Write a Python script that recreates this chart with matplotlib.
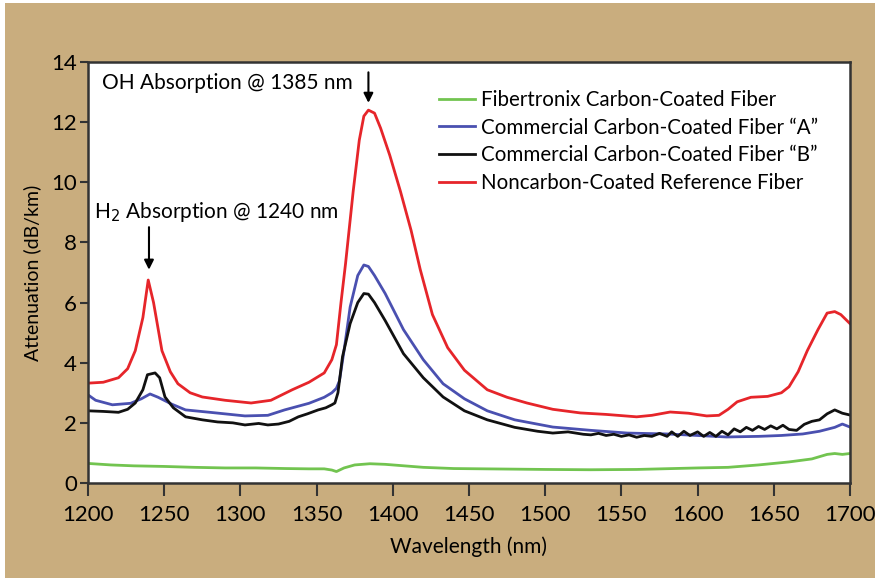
import matplotlib.pyplot as plt
from matplotlib.patches import Rectangle

# values (wavelength nm, attenuation dB/km)
wl_red = [1200, 1210, 1220, 1226, 1231, 1236, 1239.5, 1243, 1248.5, 1254, 1259, 1267, 1275,
          1290, 1307, 1320, 1334, 1345, 1355, 1360, 1363, 1366, 1369, 1374, 1378, 1381, 1384,
          1388, 1392, 1398, 1405, 1412, 1418, 1426, 1436, 1447, 1462, 1475, 1488, 1505, 1523,
          1540, 1560, 1570, 1582, 1594, 1606, 1614, 1620, 1626, 1635, 1646, 1655, 1660, 1666,
          1672, 1679, 1685, 1690, 1694, 1698, 1700]
red = [3.32, 3.35, 3.5, 3.8, 4.4, 5.5, 6.75, 6.0, 4.4, 3.7, 3.3, 3.0, 2.86,
       2.75, 2.66, 2.75, 3.1, 3.35, 3.66, 4.1, 4.6, 6.0, 7.3, 9.7, 11.4, 12.2, 12.4,
       12.3, 11.8, 10.9, 9.7, 8.4, 7.1, 5.6, 4.5, 3.75, 3.1, 2.85, 2.66, 2.45, 2.33,
       2.28, 2.2, 2.25, 2.36, 2.32, 2.23, 2.25, 2.45, 2.7, 2.85, 2.88, 3.0, 3.2, 3.7,
       4.4, 5.1, 5.65, 5.7, 5.6, 5.4, 5.3]

wl_blue = [1200, 1205, 1216, 1228, 1235, 1240.7, 1246, 1255, 1264, 1280, 1303, 1318, 1329,
           1345, 1355, 1360, 1363, 1365, 1368, 1372, 1377, 1381, 1384, 1388, 1395, 1407, 1420,
           1433, 1447, 1462, 1480, 1505, 1530, 1554, 1580, 1600, 1619, 1640, 1655, 1669, 1680,
           1690, 1695, 1700]
blue = [2.93, 2.75, 2.6, 2.65, 2.8, 2.96, 2.85, 2.62, 2.43, 2.35, 2.23, 2.25, 2.43,
        2.65, 2.85, 3.0, 3.15, 3.4, 4.4, 5.85, 6.9, 7.25, 7.2, 6.9, 6.3, 5.1, 4.1,
        3.3, 2.8, 2.4, 2.1, 1.86, 1.75, 1.66, 1.63, 1.58, 1.53, 1.55, 1.58, 1.63, 1.72,
        1.85, 1.96, 1.86]

wl_black = [1200, 1210, 1220, 1226, 1231, 1236, 1239, 1244, 1247, 1250.5, 1256, 1264, 1275,
            1285, 1295, 1303, 1312, 1318, 1325, 1332, 1338, 1344, 1351, 1356, 1360, 1362,
            1364, 1367, 1372, 1377, 1381, 1384, 1388, 1395, 1407, 1420, 1433, 1447, 1462,
            1480, 1495, 1505, 1515, 1525, 1530, 1535, 1540, 1545, 1550, 1555, 1560, 1565,
            1570, 1575, 1580, 1583, 1587, 1591, 1595, 1600, 1604, 1608, 1612, 1616, 1620,
            1624, 1628, 1632, 1636, 1640, 1644, 1648, 1652, 1656, 1660, 1665, 1670, 1675,
            1680, 1685, 1690, 1695, 1700]
black = [2.4, 2.38, 2.35, 2.45, 2.66, 3.1, 3.6, 3.66, 3.5, 2.86, 2.5, 2.2, 2.1,
         2.03, 2.0, 1.93, 1.98, 1.93, 1.96, 2.05, 2.2, 2.3, 2.43, 2.5, 2.6, 2.66,
         3.0, 4.2, 5.3, 6.0, 6.3, 6.28, 6.0, 5.4, 4.3, 3.5, 2.86, 2.4, 2.1,
         1.85, 1.72, 1.66, 1.7, 1.62, 1.6, 1.65, 1.58, 1.62, 1.55, 1.6, 1.52, 1.58,
         1.55, 1.65, 1.55, 1.7, 1.55, 1.72, 1.58, 1.7, 1.55, 1.68, 1.55, 1.72, 1.6,
         1.8, 1.7, 1.85, 1.75, 1.88, 1.78, 1.9, 1.8, 1.92, 1.78, 1.75, 1.95, 2.05,
         2.1, 2.3, 2.43, 2.32, 2.26]

wl_green = [1200, 1215, 1230, 1250, 1270, 1290, 1310, 1330, 1345, 1355, 1360, 1363, 1368,
            1375, 1385, 1395, 1405, 1420, 1440, 1460, 1500, 1530, 1560, 1600, 1620, 1640,
            1660, 1675, 1685, 1690, 1695, 1700]
green = [0.65, 0.6, 0.57, 0.55, 0.52, 0.5, 0.5, 0.48, 0.47, 0.47, 0.43, 0.38, 0.5,
         0.6, 0.64, 0.62, 0.58, 0.52, 0.48, 0.47, 0.45, 0.44, 0.45, 0.5, 0.52, 0.6,
         0.7, 0.8, 0.95, 0.98, 0.95, 0.98]

labels = ["Fibertronix Carbon-Coated Fiber",
          "Commercial Carbon-Coated Fiber \u201cA\u201d",
          "Commercial Carbon-Coated Fiber \u201cB\u201d",
          "Noncarbon-Coated Reference Fiber"]

plt.rcParams['font.family'] = ['Lato', 'DejaVu Sans']

tan = '#c9ad7e'
fig = plt.figure(figsize=(8.75, 5.78), dpi=100, facecolor='white')
fig.patches.append(Rectangle((0.006, 0), 1, 0.994, transform=fig.transFigure,
                             facecolor=tan, edgecolor='none', zorder=-10))
ax = fig.add_axes([0.1006, 0.1644, 0.8708, 0.7283])

ax.plot(wl_green, green, color='#72c450', lw=2, label=labels[0])
ax.plot(wl_blue, blue, color='#4a50b0', lw=2, label=labels[1])
ax.plot(wl_black, black, color='#111111', lw=2, label=labels[2])
ax.plot(wl_red, red, color='#e6252a', lw=2, label=labels[3])

ax.set_xlim(1200, 1700)
ax.set_ylim(0, 14)
ax.set_xticks(range(1200, 1701, 50))
ax.set_yticks(range(0, 15, 2))
ax.tick_params(axis='x', length=9, width=1.5, labelsize=16, pad=7, color='#333333')
ax.tick_params(axis='y', length=6, width=1.5, labelsize=16, pad=2, color='#333333')
for s in ax.spines.values():
    s.set_linewidth(1.8)
    s.set_color('#333333')

ax.set_xlabel("Wavelength (nm)", fontsize=15, labelpad=8)
ax.set_ylabel("Attenuation (dB/km)", fontsize=14, labelpad=7)

ax.text(1209, 13.3, "OH Absorption @ 1385 nm", fontsize=15, va='center')
ax.annotate("", xy=(1384, 12.55), xytext=(1384, 13.75),
            arrowprops=dict(arrowstyle='-|>', color='black', lw=1.5, mutation_scale=14))
ax.text(1204, 9.0, "H$_2$ Absorption @ 1240 nm", fontsize=15, va='center')
ax.annotate("", xy=(1240, 7.0), xytext=(1240, 8.6),
            arrowprops=dict(arrowstyle='-|>', color='black', lw=1.5, mutation_scale=14))

ax.legend(loc='upper left', bbox_to_anchor=(0.437, 0.978), frameon=False, fontsize=14.8,
          handlelength=1.75, handletextpad=0.25, labelspacing=0.38)

fig.savefig("out.png", dpi=100, facecolor=fig.get_facecolor())
